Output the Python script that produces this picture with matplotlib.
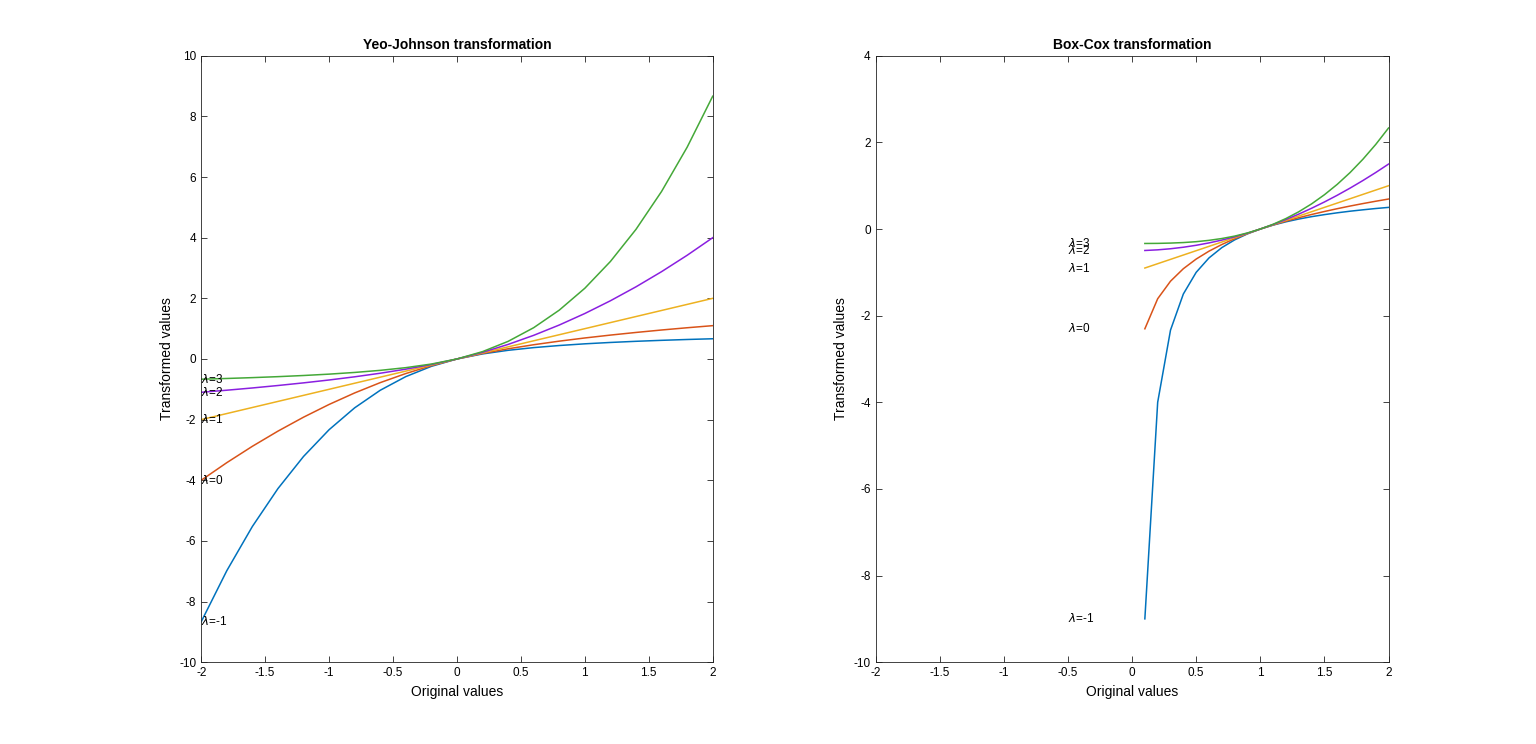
import numpy as np
import matplotlib.pyplot as plt
from matplotlib.ticker import FuncFormatter

plt.rcParams['font.family'] = ['Liberation Sans', 'DejaVu Sans']

lambdas = [-1, 0, 1, 2, 3]
colors = ['#0072BD', '#D95319', '#EDB120', '#8A1FE0', '#44A838']

# Yeo-Johnson, x from -2 to 2 in steps of 0.2
yj_x = [-2.0, -1.8, -1.6, -1.4, -1.2, -1.0, -0.8, -0.6, -0.4, -0.2, 0.0,
        0.2, 0.4, 0.6, 0.8, 1.0, 1.2, 1.4, 1.6, 1.8, 2.0]
yj_y = {
    -1: [-8.667, -6.984, -5.525, -4.275, -3.216, -2.333, -1.611, -1.032, -0.581, -0.243, 0,
         0.167, 0.286, 0.375, 0.444, 0.5, 0.545, 0.583, 0.615, 0.643, 0.667],
    0: [-4.0, -3.42, -2.88, -2.38, -1.92, -1.5, -1.12, -0.78, -0.48, -0.22, 0,
        0.182, 0.336, 0.470, 0.588, 0.693, 0.788, 0.875, 0.956, 1.030, 1.099],
    1: [-2.0, -1.8, -1.6, -1.4, -1.2, -1.0, -0.8, -0.6, -0.4, -0.2, 0,
        0.2, 0.4, 0.6, 0.8, 1.0, 1.2, 1.4, 1.6, 1.8, 2.0],
    2: [-1.099, -1.030, -0.956, -0.875, -0.788, -0.693, -0.588, -0.470, -0.336, -0.182, 0,
        0.22, 0.48, 0.78, 1.12, 1.5, 1.92, 2.38, 2.88, 3.42, 4.0],
    3: [-0.667, -0.643, -0.615, -0.583, -0.545, -0.5, -0.444, -0.375, -0.286, -0.167, 0,
        0.243, 0.581, 1.032, 1.611, 2.333, 3.216, 4.275, 5.525, 6.984, 8.667],
}

# Box-Cox, x from 0.1 to 2 in steps of 0.1
bc_x = [0.1, 0.2, 0.3, 0.4, 0.5, 0.6, 0.7, 0.8, 0.9, 1.0,
        1.1, 1.2, 1.3, 1.4, 1.5, 1.6, 1.7, 1.8, 1.9, 2.0]
bc_y = {
    -1: [-9.0, -4.0, -2.333, -1.5, -1.0, -0.667, -0.429, -0.25, -0.111, 0,
         0.091, 0.167, 0.231, 0.286, 0.333, 0.375, 0.412, 0.444, 0.474, 0.5],
    0: [-2.303, -1.609, -1.204, -0.916, -0.693, -0.511, -0.357, -0.223, -0.105, 0,
        0.095, 0.182, 0.262, 0.336, 0.405, 0.470, 0.531, 0.588, 0.642, 0.693],
    1: [-0.9, -0.8, -0.7, -0.6, -0.5, -0.4, -0.3, -0.2, -0.1, 0,
        0.1, 0.2, 0.3, 0.4, 0.5, 0.6, 0.7, 0.8, 0.9, 1.0],
    2: [-0.495, -0.48, -0.455, -0.42, -0.375, -0.32, -0.255, -0.18, -0.095, 0,
        0.105, 0.22, 0.345, 0.48, 0.625, 0.78, 0.945, 1.12, 1.305, 1.5],
    3: [-0.333, -0.331, -0.324, -0.312, -0.292, -0.261, -0.219, -0.163, -0.090, 0,
        0.110, 0.243, 0.399, 0.581, 0.792, 1.032, 1.304, 1.611, 1.953, 2.333],
}

fig = plt.figure(figsize=(15.36, 7.44), dpi=100)
ax1 = fig.add_axes([0.131, 0.110, 0.333, 0.815])
ax2 = fig.add_axes([0.570, 0.110, 0.334, 0.815])

fmt = FuncFormatter(lambda v, p: '%g' % v)


def style(ax, title, ylim, yticks):
    ax.set_xlim(-2, 2)
    ax.set_ylim(*ylim)
    ax.set_xticks(np.arange(-2, 2.01, 0.5))
    ax.set_yticks(yticks)
    ax.xaxis.set_major_formatter(fmt)
    ax.yaxis.set_major_formatter(fmt)
    ax.tick_params(direction='in', top=True, right=True, labelsize=8.5,
                   length=4, width=0.6, color='#222222')
    for s in ax.spines.values():
        s.set_linewidth(0.6)
        s.set_color('#222222')
    ax.set_title(title, fontsize=10, fontweight='bold', pad=5)
    ax.set_xlabel('Original values', fontsize=10)
    ax.set_ylabel('Transformed values', fontsize=10)


for lam, c in zip(lambdas, colors):
    ax1.plot(yj_x, yj_y[lam], color=c, lw=1.1)
    ax1.text(yj_x[0], yj_y[lam][0], r'$\lambda$=%d' % lam, fontsize=8.5,
             va='center', ha='left')
    ax2.plot(bc_x, bc_y[lam], color=c, lw=1.1)
    ax2.text(-0.5, bc_y[lam][0], r'$\lambda$=%d' % lam, fontsize=8.5,
             va='center', ha='left')

style(ax1, 'Yeo-Johnson transformation', (-10, 10), np.arange(-10, 10.1, 2))
style(ax2, 'Box-Cox transformation', (-10, 4), np.arange(-10, 4.1, 2))

fig.savefig('out.png', dpi=100)
